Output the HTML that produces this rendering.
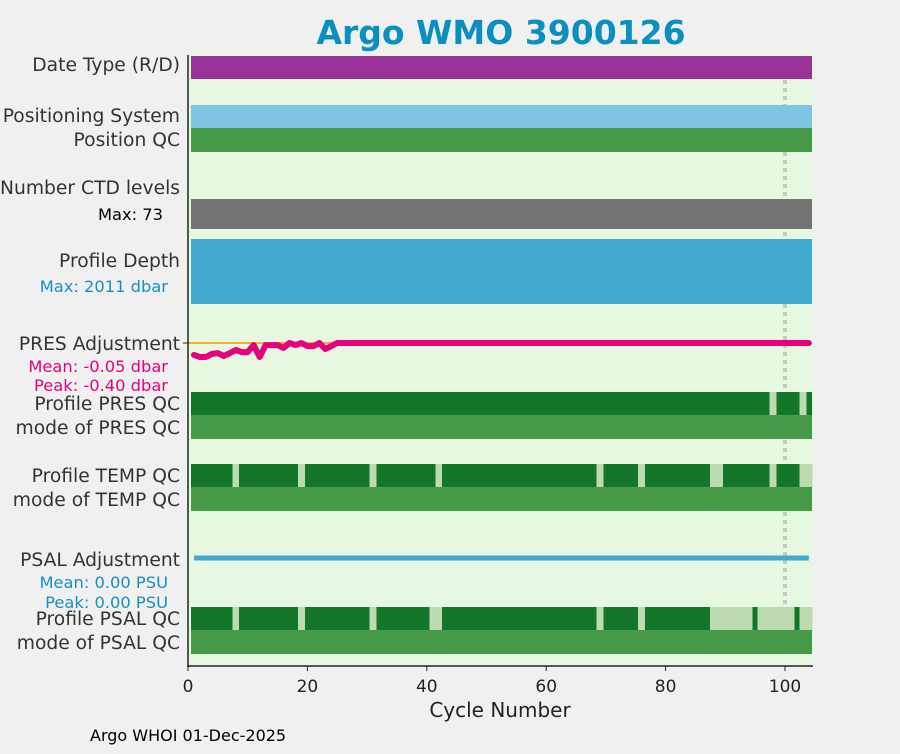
<!DOCTYPE html>
<html><head><meta charset="utf-8"><style>
body{margin:0;background:#f0f0f0;font-family:"DejaVu Sans","Liberation Sans",sans-serif}
svg text{font-family:"DejaVu Sans","Liberation Sans",sans-serif}
</style></head><body>
<svg id="c" width="900" height="750">
<rect x="0" y="0" width="900" height="750" fill="#f0f0f0"/>
<rect x="188" y="55" width="625" height="611" fill="#e6f9e0"/>
<line x1="785" y1="56" x2="785" y2="654" stroke="#c8c8c8" stroke-width="4" stroke-dasharray="4,4"/>
<g id="bars" shape-rendering="crispEdges"></g>
<g id="lines"></g>
<text x="501" y="44" text-anchor="middle" font-size="33" font-weight="bold" fill="#0a8fbf">Argo WMO 3900126</text>
<g font-size="18.7" fill="#333" text-anchor="end">
<text x="180" y="71">Date Type (R/D)</text>
<text x="180" y="122">Positioning System</text>
<text x="180" y="146">Position QC</text>
<text x="180" y="194">Number CTD levels</text>
<text x="163" y="220" font-size="16.3" fill="#000">Max: 73</text>
<text x="180" y="267">Profile Depth</text>
<text x="168" y="292" font-size="16.3" fill="#1a8fbf">Max: 2011 dbar</text>
<text x="180" y="350">PRES Adjustment</text>
<text x="168" y="372" font-size="16.3" fill="#e6007e">Mean: -0.05 dbar</text>
<text x="168" y="391" font-size="16.3" fill="#e6007e">Peak: -0.40 dbar</text>
<text x="180" y="410">Profile PRES QC</text>
<text x="180" y="434">mode of PRES QC</text>
<text x="180" y="482">Profile TEMP QC</text>
<text x="180" y="506">mode of TEMP QC</text>
<text x="180" y="566">PSAL Adjustment</text>
<text x="168" y="588" font-size="16.3" fill="#1a8fbf">Mean: 0.00 PSU</text>
<text x="168" y="608" font-size="16.3" fill="#1a8fbf">Peak: 0.00 PSU</text>
<text x="180" y="625">Profile PSAL QC</text>
<text x="180" y="649">mode of PSAL QC</text>
</g>
<line x1="188" y1="55" x2="188" y2="667" stroke="#222" stroke-width="1.5"/>
<line x1="187" y1="666" x2="813" y2="666" stroke="#222" stroke-width="1.5"/>
<line x1="183" y1="343" x2="188" y2="343" stroke="#222"/>
<g id="xt"></g>
<text x="500" y="717" text-anchor="middle" font-size="20" fill="#222">Cycle Number</text>
<text x="90" y="741" font-size="16" fill="#000">Argo WHOI 01-Dec-2025</text>
</svg>
<script>
const nCycles = 104;
const xTicks = [0,20,40,60,80,100];
const presQcBad = [98,103];
const tempQcBad = [8,19,31,42,69,76,88,89,98,103,104];
const psalQcBad = [8,19,31,41,42,69,76,88,89,90,91,92,93,94,96,97,98,99,100,101,103,104];
const presAdj = [-0.34,-0.4,-0.4,-0.31,-0.29,-0.37,-0.29,-0.2,-0.26,-0.26,-0.06,-0.4,-0.06,-0.06,-0.06,-0.14,0,-0.06,0,-0.09,-0.09,0,-0.17,-0.09];
const psalAdj = [0];

const NS='http://www.w3.org/2000/svg';
const x = v => 188 + v*5.97;
const yPres = v => 343 - v*35;
const g = document.getElementById('bars');
const lg = document.getElementById('lines');
function rect(x0,y0,w,h,fill,name){const r=document.createElementNS(NS,'rect');r.setAttribute('x',x0);r.setAttribute('y',y0);r.setAttribute('width',w);r.setAttribute('height',h);r.setAttribute('fill',fill);


g.appendChild(r);return r;}
const full = (y0,h,fill,name)=>rect(x(0.5),y0,x(nCycles+0.5)-x(0.5),h,fill,name);
full(56,23,'#993399','date-type-bar');
full(105,23,'#7fc4e0','positioning-system-bar');
full(128,24,'#479a47','position-qc-bar');
full(199,30,'#737373','ctd-levels-bar');
full(239,65,'#43aacf','profile-depth-bar');
function qcRow(y0,bad,name){
  full(y0,23,'#137629',name);
  bad.forEach(c=>rect(x(c-0.5)-0.5,y0,x(c+0.5)-x(c-0.5)+1,23,'#bcdbb0',name+'-flagged-cycle'));
}
qcRow(392,presQcBad,'profile-pres-qc-bar');
full(415,24,'#479a47','mode-pres-qc-bar');
qcRow(464,tempQcBad,'profile-temp-qc-bar');
full(487,24,'#479a47','mode-temp-qc-bar');
qcRow(607,psalQcBad,'profile-psal-qc-bar');
full(630,24,'#479a47','mode-psal-qc-bar');
const z=document.createElementNS(NS,'line');z.setAttribute('x1',188);z.setAttribute('x2',x(nCycles));z.setAttribute('y1',yPres(0));z.setAttribute('y2',yPres(0));z.setAttribute('stroke','#f0b030');z.setAttribute('stroke-width',2);


lg.appendChild(z);
let pts=[];for(let c=1;c<=nCycles;c++){const v=c<=presAdj.length?presAdj[c-1]:0;pts.push(x(c)+','+yPres(v));}
const pl=document.createElementNS(NS,'polyline');pl.setAttribute('points',pts.join(' '));pl.setAttribute('fill','none');pl.setAttribute('stroke','#e6007e');pl.setAttribute('stroke-width',6);pl.setAttribute('stroke-linejoin','round');pl.setAttribute('stroke-linecap','round');


lg.appendChild(pl);
let pp=[];for(let c=1;c<=nCycles;c++){const v=c<=psalAdj.length?psalAdj[c-1]:0;pp.push(x(c)+','+(558-v*35));}
const sl=document.createElementNS(NS,'polyline');sl.setAttribute('points',pp.join(' '));sl.setAttribute('fill','none');sl.setAttribute('stroke','#43aacf');sl.setAttribute('stroke-width',5);


lg.appendChild(sl);
const xt=document.getElementById('xt');
xTicks.forEach(t=>{
  const l=document.createElementNS(NS,'line');l.setAttribute('x1',x(t));l.setAttribute('x2',x(t));l.setAttribute('y1',666);l.setAttribute('y2',671);l.setAttribute('stroke','#222');
  
  
  xt.appendChild(l);
  const tx=document.createElementNS(NS,'text');tx.setAttribute('x',x(t));tx.setAttribute('y',692);tx.setAttribute('text-anchor','middle');tx.setAttribute('font-size','17');tx.setAttribute('fill','#222');tx.textContent=t;
  
  
  xt.appendChild(tx);
});
</script>
</body></html>
